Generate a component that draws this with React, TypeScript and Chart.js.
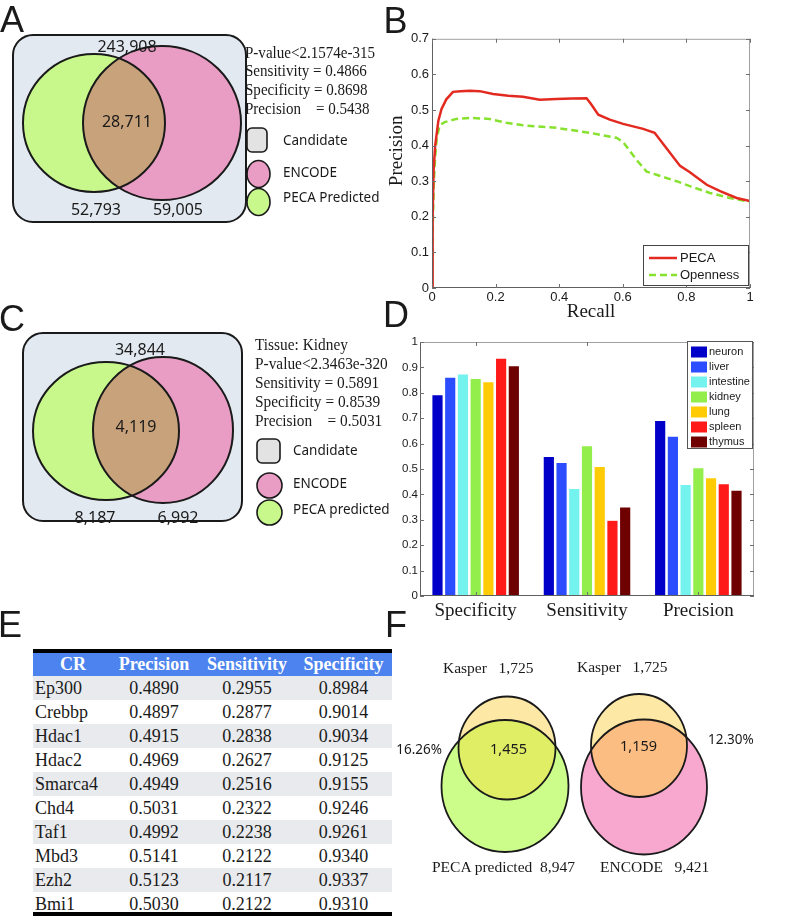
import React, { useEffect, useRef } from 'react';
import { Chart, registerables } from 'chart.js';
Chart.register(...registerables);

const SERIF = '"Liberation Serif", "Times New Roman", serif';
const SANS = '"Liberation Sans", Arial, sans-serif';
const CAL = '"Noto Sans", "Open Sans", sans-serif';
const INK = '#1a1a1a';

// ---------------- Data ----------------
// Panel A
const vennACounts = ['243,908', '28,711', '52,793', '59,005'];
const vennAStats = ['P-value<2.1574e-315', 'Sensitivity = 0.4866', 'Specificity = 0.8698', 'Precision    = 0.5438'];
const vennALegend = ['Candidate', 'ENCODE', 'PECA Predicted'];
// Panel C
const vennCCounts = ['34,844', '4,119', '8,187', '6,992'];
const vennCStats = ['Tissue: Kidney', 'P-value<2.3463e-320', 'Sensitivity = 0.5891', 'Specificity = 0.8539', 'Precision    = 0.5031'];
const vennCLegend = ['Candidate', 'ENCODE', 'PECA predicted'];
// Panel B
const pecaRecall = [0, 0.002, 0.005, 0.01, 0.02, 0.03, 0.045, 0.066, 0.09, 0.119, 0.15, 0.192, 0.24, 0.286, 0.339, 0.391, 0.44, 0.486, 0.5, 0.523, 0.559, 0.601, 0.664, 0.7, 0.738, 0.78, 0.811, 0.864, 0.906, 0.958, 1.0];
const pecaPrecision = [0, 0.2, 0.33, 0.4, 0.47, 0.503, 0.53, 0.551, 0.553, 0.554, 0.553, 0.545, 0.54, 0.537, 0.529, 0.531, 0.532, 0.533, 0.517, 0.487, 0.473, 0.461, 0.447, 0.436, 0.392, 0.343, 0.325, 0.29, 0.272, 0.253, 0.244];
const openRecall = [0, 0.003, 0.006, 0.01, 0.015, 0.024, 0.04, 0.077, 0.119, 0.18, 0.234, 0.286, 0.391, 0.496, 0.58, 0.601, 0.643, 0.675, 0.706, 0.769, 0.811, 0.874, 0.937, 1.0];
const openPrecision = [0, 0.2, 0.3, 0.37, 0.42, 0.457, 0.466, 0.475, 0.478, 0.475, 0.464, 0.457, 0.45, 0.436, 0.422, 0.41, 0.36, 0.327, 0.318, 0.3, 0.286, 0.267, 0.253, 0.242];
const bSeriesLabels = ['PECA', 'Openness'];
// Panel D
const metrics = ['Specificity', 'Sensitivity', 'Precision'];
const tissues = ['neuron', 'liver', 'intestine', 'kidney', 'lung', 'spleen', 'thymus'];
const neuronVals = [0.79, 0.547, 0.689];
const liverVals = [0.859, 0.524, 0.627];
const intestineVals = [0.872, 0.421, 0.437];
const kidneyVals = [0.8539, 0.5891, 0.5031];
const lungVals = [0.842, 0.508, 0.464];
const spleenVals = [0.934, 0.296, 0.44];
const thymusVals = [0.905, 0.348, 0.414];
const tissueValues = [neuronVals, liverVals, intestineVals, kidneyVals, lungVals, spleenVals, thymusVals];
// Panel E
const tableHeader = ['CR', 'Precision', 'Sensitivity', 'Specificity'];
const crNames = ['Ep300', 'Crebbp', 'Hdac1', 'Hdac2', 'Smarca4', 'Chd4', 'Taf1', 'Mbd3', 'Ezh2', 'Bmi1'];
const crPrecision = ['0.4890', '0.4897', '0.4915', '0.4969', '0.4949', '0.5031', '0.4992', '0.5141', '0.5123', '0.5030'];
const crSensitivity = ['0.2955', '0.2877', '0.2838', '0.2627', '0.2516', '0.2322', '0.2238', '0.2122', '0.2117', '0.2122'];
const crSpecificity = ['0.8984', '0.9014', '0.9034', '0.9125', '0.9155', '0.9246', '0.9261', '0.9340', '0.9337', '0.9310'];
// Panel F
const kasperLabel = 'Kasper   1,725';
const fOverlaps = ['1,455', '1,159'];
const fPercents = ['16.26%', '12.30%'];
const fBottomLabels = ['PECA predicted  8,947', 'ENCODE   9,421'];

// ---------------- Styles ----------------
const tissueColors = ['#0000c8', '#2c4dff', '#74f2ee', '#93ee4b', '#ffcb05', '#ff1a1a', '#6e0000'];
const C_BG = '#e2e9f1';
const C_GREEN = '#c8f88c';
const C_PINK = '#e99dc5';
const C_BROWN = '#c8a27b';
const C_KASPER = '#fde8a6';
const C_FGREEN = '#ccfd8b';
const C_FPINK = '#f8a8cf';
const C_FINT_L = '#e0ee66';
const C_FINT_R = '#fbbd82';

const tickFmt = (v: any) => String(parseFloat(Number(v).toFixed(2)));

// ---------------- Helpers ----------------
function ChartCanvas({ left, top, width, height, make }: any) {
  const ref = useRef<HTMLCanvasElement>(null);
  useEffect(() => {
    const chart = new Chart(ref.current as HTMLCanvasElement, make());
    return () => chart.destroy();
  }, []);
  return (
    <canvas ref={ref} width={width} height={height}
      style={{ position: 'absolute', left, top, width, height }} />
  );
}

function Txt({ x, y, text, size, family, align = 'left', weight = 400, color = INK, sx = 1 }: any) {
  const tx = align === 'center' ? 'translateX(-50%)' : align === 'right' ? 'translateX(-100%)' : '';
  return (
    <div style={{
      position: 'absolute', left: x, top: y - size * 0.6, fontSize: size, lineHeight: `${size * 1.2}px`,
      fontFamily: family, fontWeight: weight, color, whiteSpace: 'pre',
      transform: `${tx} scaleX(${sx})`, transformOrigin: 'left center',
    }}>{text}</div>
  );
}

function vennConfig(x0: number, y0: number, w: number, h: number, paint: (ctx: CanvasRenderingContext2D, P: any) => void) {
  return {
    type: 'scatter',
    data: { datasets: [] },
    options: {
      animation: false, responsive: false, events: [],
      devicePixelRatio: 1,
      layout: { padding: 0 },
      plugins: { legend: { display: false }, tooltip: { enabled: false } },
      scales: {
        x: { type: 'linear', display: false, min: x0, max: x0 + w },
        y: { type: 'linear', display: false, min: y0, max: y0 + h, reverse: true },
      },
    },
    plugins: [{
      id: 'vennPaint',
      afterDraw(chart: any) {
        const ctx = chart.ctx as CanvasRenderingContext2D;
        const sx = chart.scales.x, sy = chart.scales.y;
        const P = {
          ell(e: number[]) {
            const [cx, cy, rx, ry] = e;
            const px = sx.getPixelForValue(cx), py = sy.getPixelForValue(cy);
            const prx = Math.abs(sx.getPixelForValue(cx + rx) - px);
            const pry = Math.abs(sy.getPixelForValue(cy + ry) - py);
            ctx.beginPath();
            ctx.ellipse(px, py, prx, pry, 0, 0, Math.PI * 2);
          },
          rrect(r: number[]) {
            const [x1, y1, x2, y2, rad] = r;
            const a = sx.getPixelForValue(x1), b = sy.getPixelForValue(y1);
            const c = sx.getPixelForValue(x2), d = sy.getPixelForValue(y2);
            ctx.beginPath();
            (ctx as any).roundRect(a, b, c - a, d - b, rad);
          },
        };
        ctx.save();
        paint(ctx, P);
        ctx.restore();
      },
    }],
  };
}

function venn2(ctx: CanvasRenderingContext2D, P: any, a: number[], aFill: string, b: number[], bFill: string, interFill: string, lw: number) {
  P.ell(a); ctx.fillStyle = aFill; ctx.fill();
  P.ell(b); ctx.fillStyle = bFill; ctx.fill();
  ctx.save();
  P.ell(a); ctx.clip();
  P.ell(b); ctx.fillStyle = interFill; ctx.fill();
  ctx.restore();
  ctx.strokeStyle = INK; ctx.lineWidth = lw;
  P.ell(a); ctx.stroke();
  P.ell(b); ctx.stroke();
}

function drawLegendIcons(ctx: CanvasRenderingContext2D, P: any, sq: number[], pink: number[], green: number[]) {
  ctx.lineWidth = 1.6; ctx.strokeStyle = INK;
  P.rrect(sq); ctx.fillStyle = '#e3e3e3'; ctx.fill(); ctx.stroke();
  P.ell(pink); ctx.fillStyle = C_PINK; ctx.fill(); ctx.stroke();
  P.ell(green); ctx.fillStyle = C_GREEN; ctx.fill(); ctx.stroke();
}

function drawMatlabBox(chart: any) {
  const { ctx, chartArea } = chart;
  const { left, right, top, bottom } = chartArea;
  const sx = chart.scales.x, sy = chart.scales.y;
  ctx.save();
  ctx.lineWidth = 1;
  ctx.strokeStyle = '#a0a0a0';
  ctx.beginPath();
  ctx.moveTo(left, top + 0.5); ctx.lineTo(right, top + 0.5);
  ctx.moveTo(right - 0.5, top); ctx.lineTo(right - 0.5, bottom);
  ctx.stroke();
  ctx.strokeStyle = '#606060';
  ctx.beginPath();
  ctx.moveTo(left + 0.5, top); ctx.lineTo(left + 0.5, bottom);
  ctx.moveTo(left, bottom - 0.5); ctx.lineTo(right, bottom - 0.5);
  ctx.stroke();
  const tl = 4;
  ctx.strokeStyle = '#707070';
  ctx.beginPath();
  sx.ticks.forEach((_: any, i: number) => {
    const p = Math.round(sx.getPixelForTick(i)) + 0.5;
    ctx.moveTo(p, bottom); ctx.lineTo(p, bottom - tl);
    ctx.moveTo(p, top); ctx.lineTo(p, top + tl);
  });
  sy.ticks.forEach((_: any, i: number) => {
    const p = Math.round(sy.getPixelForTick(i)) + 0.5;
    ctx.moveTo(left, p); ctx.lineTo(left + tl, p);
    ctx.moveTo(right, p); ctx.lineTo(right - tl, p);
  });
  ctx.stroke();
  ctx.restore();
}

// ---------------- Chart configs ----------------
function makeVennA() {
  return vennConfig(0, 0, 390, 230, (ctx, P) => {
    P.rrect([13, 35, 246, 222, 20]); ctx.fillStyle = C_BG; ctx.fill();
    ctx.lineWidth = 2; ctx.strokeStyle = INK; ctx.stroke();
    venn2(ctx, P, [94, 123, 71, 69], C_GREEN, [162, 123, 79, 77], C_PINK, C_BROWN, 2);
    drawLegendIcons(ctx, P, [247, 128, 267, 152, 5], [258.5, 174, 11.5, 13.5], [258.5, 202, 11.5, 13.5]);
  });
}

function makeVennC() {
  return vennConfig(0, 300, 390, 230, (ctx, P) => {
    P.rrect([23, 333, 242, 521, 20]); ctx.fillStyle = C_BG; ctx.fill();
    ctx.lineWidth = 2; ctx.strokeStyle = INK; ctx.stroke();
    venn2(ctx, P, [106, 431, 73, 69], C_GREEN, [163, 430, 70, 73], C_PINK, C_BROWN, 2);
    drawLegendIcons(ctx, P, [257, 439, 280, 463, 5], [269.5, 485.5, 12.5, 12.5], [269.5, 512.5, 12.5, 12.5]);
  });
}

function makeVennF() {
  return vennConfig(380, 640, 416, 240, (ctx, P) => {
    venn2(ctx, P, [505, 786, 63.5, 66], C_FGREEN, [507, 748, 48.5, 51.5], C_KASPER, C_FINT_L, 1.8);
    venn2(ctx, P, [644, 787, 63, 67.5], C_FPINK, [639, 745.5, 48, 51.5], C_KASPER, C_FINT_R, 1.8);
  });
}

function makeB() {
  const pts = (xs: number[], ys: number[]) => xs.map((x, i) => ({ x, y: ys[i] }));
  return {
    type: 'scatter',
    data: {
      datasets: [
        { label: bSeriesLabels[0], data: pts(pecaRecall, pecaPrecision), showLine: true, borderColor: '#e32a20', backgroundColor: '#e32a20', borderWidth: 2.5, pointRadius: 0, tension: 0 },
        { label: bSeriesLabels[1], data: pts(openRecall, openPrecision), showLine: true, borderColor: '#86e22e', backgroundColor: '#86e22e', borderWidth: 2.5, borderDash: [7, 4], pointRadius: 0, tension: 0 },
      ],
    },
    options: {
      animation: false, responsive: false, events: [], devicePixelRatio: 1,
      layout: { padding: { top: 8, right: 10, left: 0, bottom: 0 } },
      plugins: { legend: { display: false }, tooltip: { enabled: false } },
      scales: {
        x: {
          type: 'linear', min: 0, max: 1,
          afterFit: (s: any) => { s.height = 40; },
          grid: { display: false, drawTicks: false }, border: { display: false },
          ticks: { stepSize: 0.2, padding: 2, color: INK, font: { family: SANS, size: 13 }, maxRotation: 0, callback: tickFmt },
          title: { display: true, text: 'Recall', color: INK, font: { family: SERIF, size: 19 }, padding: { top: 0, bottom: 5 } },
        },
        y: {
          type: 'linear', min: 0, max: 0.7,
          afterFit: (s: any) => { s.width = 48; },
          grid: { display: false, drawTicks: false }, border: { display: false },
          ticks: { stepSize: 0.1, padding: 3, color: INK, font: { family: SANS, size: 13 }, callback: tickFmt },
        },
      },
    },
    plugins: [{
      id: 'bDecor',
      afterDraw(chart: any) {
        drawMatlabBox(chart);
        const { ctx, chartArea } = chart;
        ctx.save();
        ctx.translate(chartArea.left - 35, chartArea.top + 112);
        ctx.rotate(-Math.PI / 2);
        ctx.font = `19px ${SERIF}`;
        ctx.fillStyle = INK; ctx.textAlign = 'center'; ctx.textBaseline = 'middle';
        ctx.fillText('Precision', 0, 0);
        ctx.restore();
        const bw = 105, bh = 40;
        const bx = chartArea.right - 2 - bw, by = chartArea.bottom - 3 - bh;
        ctx.save();
        ctx.fillStyle = '#fff'; ctx.fillRect(bx, by, bw, bh);
        ctx.strokeStyle = '#444'; ctx.lineWidth = 1; ctx.strokeRect(bx + 0.5, by + 0.5, bw, bh);
        chart.data.datasets.forEach((ds: any, i: number) => {
          const yy = by + 13 + i * 17;
          ctx.strokeStyle = ds.borderColor; ctx.lineWidth = 2.5;
          ctx.setLineDash(ds.borderDash || []);
          ctx.beginPath(); ctx.moveTo(bx + 6, yy); ctx.lineTo(bx + 34, yy); ctx.stroke();
          ctx.setLineDash([]);
          ctx.fillStyle = INK; ctx.font = `13px ${SANS}`; ctx.textBaseline = 'middle'; ctx.textAlign = 'left';
          ctx.fillText(ds.label, bx + 37, yy);
        });
        ctx.restore();
      },
    }],
  };
}

function makeD() {
  return {
    type: 'bar',
    data: {
      labels: metrics,
      datasets: tissues.map((t, i) => ({
        label: t, data: tissueValues[i], backgroundColor: tissueColors[i], borderWidth: 0,
        categoryPercentage: 0.8, barPercentage: 0.8,
      })),
    },
    options: {
      animation: false, responsive: false, events: [], devicePixelRatio: 1,
      layout: { padding: { top: 12, right: 6, left: 0, bottom: 0 } },
      plugins: { legend: { display: false }, tooltip: { enabled: false } },
      scales: {
        x: {
          afterFit: (s: any) => { s.height = 34; },
          grid: { display: false, drawTicks: false }, border: { display: false },
          ticks: { padding: 4, color: INK, font: { family: SERIF, size: 19 }, maxRotation: 0 },
        },
        y: {
          type: 'linear', min: 0, max: 1,
          afterFit: (s: any) => { s.width = 36; },
          grid: { display: false, drawTicks: false }, border: { display: false },
          ticks: { stepSize: 0.1, padding: 2, color: INK, font: { family: SANS, size: 11.5 }, callback: tickFmt },
        },
      },
    },
    plugins: [{
      id: 'dDecor',
      afterDraw(chart: any) {
        drawMatlabBox(chart);
        const { ctx, chartArea } = chart;
        const bw = 65, bh = 107;
        const bx = chartArea.right - 2 - bw, by = chartArea.top - 1;
        ctx.save();
        ctx.fillStyle = '#fff'; ctx.fillRect(bx, by, bw, bh);
        ctx.strokeStyle = '#555'; ctx.lineWidth = 1; ctx.strokeRect(bx + 0.5, by + 0.5, bw, bh);
        chart.data.datasets.forEach((ds: any, i: number) => {
          const yy = by + 11 + i * 15;
          ctx.fillStyle = ds.backgroundColor;
          ctx.fillRect(bx + 4, yy - 5.5, 16, 11);
          ctx.fillStyle = INK; ctx.font = `11px ${SANS}`; ctx.textBaseline = 'middle'; ctx.textAlign = 'left';
          ctx.fillText(ds.label, bx + 22, yy);
        });
        ctx.restore();
      },
    }],
  };
}

// ---------------- Table ----------------
function Table() {
  const widths = [80, 82, 104, 93];
  const cols = [crNames, crPrecision, crSensitivity, crSpecificity];
  const cell = (w: number, i: number, extra: any) => ({
    width: w, textAlign: i === 0 ? 'left' : 'center', paddingLeft: i === 0 ? 2 : 0, paddingRight: i === 3 ? 4 : 0,
    boxSizing: 'border-box', ...extra,
  });
  return (
    <div style={{ position: 'absolute', left: 33, top: 649, width: 359, height: 267, overflow: 'hidden', fontFamily: SERIF, fontSize: 18, color: INK }}>
      <div style={{ height: 4, background: '#000' }} />
      <div style={{ display: 'flex', height: 23, lineHeight: '23px', background: '#4d83ee', color: '#fff', fontWeight: 700 }}>
        {tableHeader.map((h, i) => <div key={h} style={cell(widths[i], i, { textAlign: 'center', paddingLeft: 0 }) as any}>{h}</div>)}
      </div>
      {crNames.map((n, r) => (
        <div key={n} style={{ display: 'flex', height: 24, lineHeight: '24px', background: r % 2 === 0 ? '#e8eaed' : '#fff' }}>
          {cols.map((c, i) => <div key={i} style={cell(widths[i], i, {}) as any}>{c[r]}</div>)}
        </div>
      ))}
      <div style={{ position: 'absolute', left: 0, top: 263, width: 359, height: 4, background: '#000' }} />
    </div>
  );
}

export default function App() {
  return (
    <div style={{ position: 'absolute', left: 0, top: 0, width: 796, height: 916, background: '#fff', overflow: 'hidden' }}>
      <ChartCanvas left={0} top={0} width={390} height={230} make={makeVennA} />
      <ChartCanvas left={0} top={300} width={390} height={230} make={makeVennC} />
      <ChartCanvas left={380} top={640} width={416} height={240} make={makeVennF} />
      <ChartCanvas left={384} top={28} width={376} height={300} make={makeB} />
      <ChartCanvas left={384} top={330} width={376} height={300} make={makeD} />
      <Table />

      {/* Panel letters */}
      <Txt x={0} y={20} text="A" size={36} family={SANS} />
      <Txt x={383.5} y={21} text="B" size={36} family={SANS} />
      <Txt x={-1} y={318.5} text="C" size={36} family={SANS} />
      <Txt x={383} y={315} text="D" size={36} family={SANS} />
      <Txt x={-2} y={625} text="E" size={36} family={SANS} />
      <Txt x={385} y={625} text="F" size={36} family={SANS} />

      {/* Panel A texts */}
      <Txt x={127} y={47} text={vennACounts[0]} size={16} family={CAL} align="center" />
      <Txt x={127} y={122} text={vennACounts[1]} size={16} family={CAL} align="center" />
      <Txt x={96} y={210} text={vennACounts[2]} size={16} family={CAL} align="center" />
      <Txt x={178} y={210} text={vennACounts[3]} size={16} family={CAL} align="center" />
      {vennAStats.map((s, i) => <Txt key={s} x={245} y={[53, 71, 89.3, 108.3][i]} text={s} size={16} sx={0.94} family={SERIF} />)}
      {vennALegend.map((s, i) => <Txt key={s} x={283} y={[140, 172, 197][i]} text={s} size={13.5} family={CAL} />)}

      {/* Panel C texts */}
      <Txt x={140} y={350} text={vennCCounts[0]} size={16} family={CAL} align="center" />
      <Txt x={136} y={427} text={vennCCounts[1]} size={16} family={CAL} align="center" />
      <Txt x={95} y={518} text={vennCCounts[2]} size={16} family={CAL} align="center" />
      <Txt x={178} y={518} text={vennCCounts[3]} size={16} family={CAL} align="center" />
      {vennCStats.map((s, i) => <Txt key={s} x={255} y={[345, 363.3, 382.7, 401.7, 421][i]} text={s} size={16} sx={0.96} family={SERIF} />)}
      {vennCLegend.map((s, i) => <Txt key={s} x={293} y={[450, 483, 509][i]} text={s} size={13.5} family={CAL} />)}

      {/* Panel F texts */}
      <Txt x={443} y={668} text={kasperLabel} size={15.5} family={SERIF} />
      <Txt x={577} y={667} text={kasperLabel} size={15.5} family={SERIF} />
      <Txt x={442} y={749} text={fPercents[0]} size={13.5} family={CAL} align="right" />
      <Txt x={708} y={739} text={fPercents[1]} size={13.5} family={CAL} />
      <Txt x={508.5} y={749} text={fOverlaps[0]} size={14.5} family={CAL} align="center" />
      <Txt x={638.5} y={746} text={fOverlaps[1]} size={14.5} family={CAL} align="center" />
      <Txt x={432} y={867} text={fBottomLabels[0]} size={15.5} family={SERIF} />
      <Txt x={600} y={867} text={fBottomLabels[1]} size={15.5} family={SERIF} />
    </div>
  );
}
